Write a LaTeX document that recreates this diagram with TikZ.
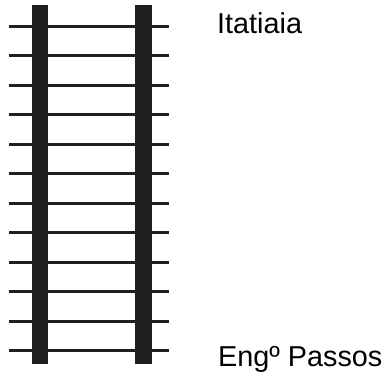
\documentclass[tikz,border=0pt]{standalone}
\usepackage{fontspec}
\setmainfont{Liberation Sans}
\usetikzlibrary{positioning}

\begin{document}
\begin{tikzpicture}[x=1pt,y=-1pt,
        rail/.style={fill=black!88},
        tie/.style={draw=black!88,line width=3pt},
        station/.style={anchor=base west,inner sep=0pt,font=\fontsize{28.8}{34}\selectfont}]
      \useasboundingbox (0,0) rectangle (387,376);
      % ties
      \foreach \i in {0,...,11}
        \draw[tie] (9,26+29.5*\i) -- (169,26+29.5*\i);
      % rails
      \fill[rail] (32,5) rectangle (48,364);
      \fill[rail] (135,5) rectangle (152,364);
      \node[station] (itatiaia) at (217,33.3) {Itatiaia};
      \node[station] (passos) at (218,366.7) {Engº Passos};
    \end{tikzpicture}
\end{document}
